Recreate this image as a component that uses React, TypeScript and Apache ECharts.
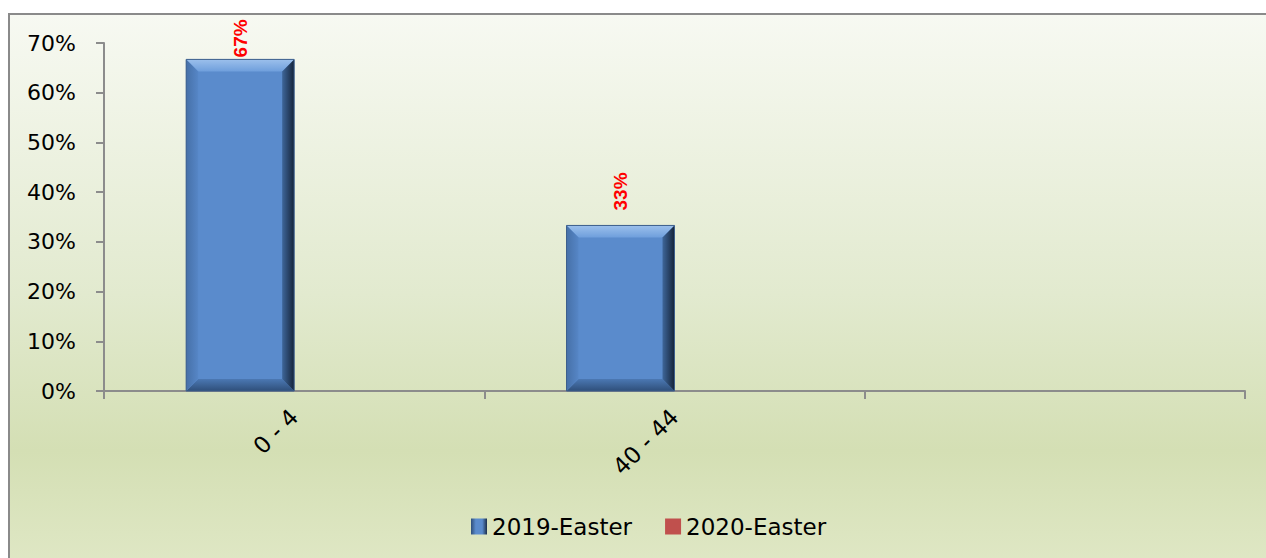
import React, { useEffect, useRef } from "react";
import * as echarts from "echarts";

const categories = ["0 - 4", "40 - 44", ""];
const easter2019 = [0.667, 0.333, null];
const easter2020 = [null, null, null];
const seriesNames = ["2019-Easter", "2020-Easter"];

const BAR_W = 108;
const BEVEL = 12;
const FONT = "DejaVu Sans";

export default function App() {
  const ref = useRef<HTMLDivElement>(null);
  useEffect(() => {
    const chart = echarts.init(ref.current!, null, { renderer: "svg" });
    const pct = (v: number) => Math.round(v * 100) + "%";
    const axisGray = "#8c8c8c";
    const bevelData = easter2019
      .map((v, i) => (v == null ? null : [i, v]))
      .filter((d) => d != null);

    chart.setOption({
      animation: false,
      backgroundColor: "#ffffff",
      graphic: [
        {
          type: "rect",
          z: -10,
          silent: true,
          shape: { x: 9, y: 14, width: 1270, height: 560 },
          style: {
            fill: new echarts.graphic.LinearGradient(0, 0, 0, 1, [
              { offset: 0, color: "#f7f9f2" },
              { offset: 0.5, color: "#e2eacf" },
              { offset: 0.78, color: "#d4dfb4" },
              { offset: 1, color: "#e0e8c6" },
            ]),
            stroke: "#8a8a8a",
            lineWidth: 2,
          },
        },
      ],
      grid: { left: 104, right: 21, top: 43, bottom: 167, containLabel: false },
      legend: {
        data: [
          {
            name: seriesNames[0],
            itemStyle: {
              color: new echarts.graphic.LinearGradient(0, 0, 1, 0, [
                { offset: 0, color: "#2f4f7a" },
                { offset: 0.3, color: "#5a8bcc" },
                { offset: 0.7, color: "#5a8bcc" },
                { offset: 1, color: "#1c2f4a" },
              ]),
            },
          },
          { name: seriesNames[1] },
        ],
        top: 510,
        left: 466,
        itemWidth: 16,
        itemHeight: 16,
        itemGap: 33,
        icon: "rect",
        textStyle: { fontSize: 23, fontFamily: FONT, color: "#000" },
      },
      xAxis: {
        type: "category",
        data: categories,
        axisLine: { lineStyle: { color: axisGray, width: 2 } },
        axisTick: { show: true, alignWithLabel: false, length: 8, lineStyle: { color: axisGray, width: 2 } },
        axisLabel: {
          interval: 0,
          rotate: 45,
          margin: 22,
          fontSize: 23,
          fontFamily: FONT,
          color: "#000",
        },
        splitLine: { show: false },
      },
      yAxis: {
        type: "value",
        min: 0,
        max: 0.7,
        interval: 0.1,
        axisLine: { show: true, lineStyle: { color: axisGray, width: 2 } },
        axisTick: { show: true, length: 8, lineStyle: { color: axisGray, width: 2 } },
        axisLabel: {
          formatter: (v: number) => pct(v),
          margin: 28,
          fontSize: 22,
          fontFamily: FONT,
          color: "#000",
        },
        splitLine: { show: false },
      },
      series: [
        {
          name: seriesNames[0],
          type: "bar",
          barWidth: BAR_W,
          barGap: "0%",
          data: easter2019.map((v) =>
            v == null
              ? "-"
              : { value: v, label: { distance: v > 0.6 ? 2 : 15 } }
          ),
          itemStyle: { color: "#5a8bcc" },
          label: {
            show: true,
            position: "top",
            rotate: 90,
            align: "left",
            verticalAlign: "middle",
            color: "#ff0000",
            fontWeight: "bold",
            fontSize: 19,
            fontFamily: "Liberation Sans",
            formatter: (p: any) => pct(p.value),
          },
          z: 2,
        },
        {
          name: seriesNames[1],
          type: "bar",
          barWidth: BAR_W,
          barGap: "0%",
          data: easter2020.map((v) => (v == null ? "-" : v)),
          itemStyle: { color: "#c0504d" },
          z: 2,
        },
        {
          name: "bevel",
          type: "custom",
          silent: true,
          z: 3,
          data: bevelData,
          renderItem: (params: any, api: any) => {
            const idx = api.value(0);
            const v = api.value(1);
            const topPt = api.coord([idx, v]);
            const basePt = api.coord([idx, 0]);
            const r = topPt[0];
            const l = r - BAR_W;
            const t = topPt[1];
            const bt = basePt[1];
            const b = BEVEL;
            return {
              type: "group",
              children: [
                {
                  type: "polygon",
                  shape: { points: [[l, t], [r, t], [r - b, t + b], [l + b, t + b]] },
                  style: {
                    fill: new echarts.graphic.LinearGradient(0, 0, 0, 1, [
                      { offset: 0, color: "#9cc0ec" },
                      { offset: 1, color: "#6f9fdc" },
                    ]),
                  },
                },
                {
                  type: "polygon",
                  shape: { points: [[l, bt], [r, bt], [r - b, bt - b], [l + b, bt - b]] },
                  style: {
                    fill: new echarts.graphic.LinearGradient(0, 0, 0, 1, [
                      { offset: 0, color: "#4b78b3" },
                      { offset: 1, color: "#2f4f7a" },
                    ]),
                  },
                },
                {
                  type: "polygon",
                  shape: { points: [[l, t], [l, bt], [l + b, bt - b], [l + b, t + b]] },
                  style: {
                    fill: new echarts.graphic.LinearGradient(0, 0, 1, 0, [
                      { offset: 0, color: "#4670a8" },
                      { offset: 1, color: "#5686c6" },
                    ]),
                  },
                },
                {
                  type: "polygon",
                  shape: { points: [[r, t], [r, bt], [r - b, bt - b], [r - b, t + b]] },
                  style: {
                    fill: new echarts.graphic.LinearGradient(0, 0, 1, 0, [
                      { offset: 0, color: "#3e6699" },
                      { offset: 1, color: "#15243a" },
                    ]),
                  },
                },
                {
                  type: "rect",
                  shape: { x: l, y: t, width: BAR_W, height: bt - t },
                  style: { fill: "none", stroke: "#3d5f8c", lineWidth: 1 },
                },
              ],
            };
          },
        },
      ],
    });
    return () => chart.dispose();
  }, []);
  return (
    <div
      ref={ref}
      style={{ position: "absolute", left: 0, top: 0, width: 1266, height: 558 }}
    />
  );
}
